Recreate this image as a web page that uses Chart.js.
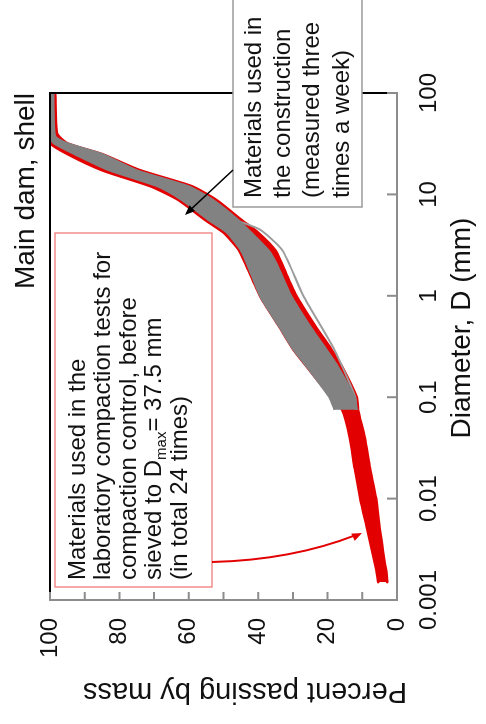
<!DOCTYPE html>
<html>
<head>
<meta charset="utf-8">
<script src="https://cdn.jsdelivr.net/npm/chart.js@4.4.1/dist/chart.umd.min.js"></script>
<style>
  html, body { margin: 0; padding: 0; background: #fff; overflow: hidden; }
  /* the figure is laid out landscape and turned a quarter to the left */
  #wrap {
    position: absolute; left: 0; top: 0;
    width: 724px; height: 486px;
    transform-origin: 0 0;
    transform: translateY(724px) rotate(-90deg);
  }
</style>
</head>
<body>
<div id="wrap"><canvas id="grading" width="724" height="486"></canvas></div>
<script>
// axis ticks
const diameterTicks = [0.001, 0.01, 0.1, 1, 10, 100]
const percentTicks = [0, 10, 20, 30, 40, 50, 60, 70, 80, 90, 100]
const percentLabels = [0, 20, 40, 60, 80, 100]

// laboratory compaction samples (24 curves) - envelope
const labSizes = [0.0015, 0.002, 0.005, 0.01, 0.02, 0.04, 0.075, 0.1, 0.2, 0.3, 0.5, 1, 2, 2.8, 4.2, 5.5, 8.8, 12, 17.3, 25, 32, 40, 100]
const labLower = [2.8, 3.2, 5, 6, 7.8, 9.3, 11.2, 11.6, 15.8, 19, 23.5, 29, 33, 35, 40, 44.5, 52, 59, 74, 85, 95, 98, 98.5]
const labUpper = [5.4, 6, 8.6, 10.6, 12.2, 13.6, 15.8, 19, 26, 30, 34, 39.5, 43.5, 45.5, 50, 55, 63, 71, 85, 95, 100, 100, 100]

// construction materials (three times a week) - envelope
const siteSizes = [0.075, 0.1, 0.2, 0.3, 0.5, 1, 2, 2.8, 4.2, 5.5, 8.8, 12, 17.3, 25, 32, 37.5, 100]
const siteLower = [11.5, 12.2, 17, 20.5, 25, 30.5, 34.5, 37, 42, 45.5, 53, 60, 75, 85, 95, 98.5, 99]
const siteUpper = [18, 19.5, 26, 30, 34, 39.5, 43, 45, 49, 54, 62, 69, 83, 93, 99, 100, 100]

// one coarser construction curve running outside the band
const outlierSizes = [0.075, 0.1, 0.3, 1, 2.8, 4.5, 5.5]
const outlierPassing = [11.8, 12, 18.2, 27, 33, 39.5, 46]

const RED = '#e30000'
const GREY = '#828282'
const FONT = "'Liberation Sans', Arial, Helvetica, sans-serif"

const toPoints = (xs, ys) => xs.map((d, i) => ({ x: d, y: ys[i] }))

function arrowHead (ctx, fromX, fromY, toX, toY, len, half) {
  const ang = Math.atan2(toY - fromY, toX - fromX)
  ctx.beginPath()
  ctx.moveTo(toX, toY)
  ctx.lineTo(toX - len * Math.cos(ang) + half * Math.sin(ang), toY - len * Math.sin(ang) - half * Math.cos(ang))
  ctx.lineTo(toX - len * Math.cos(ang) - half * Math.sin(ang), toY - len * Math.sin(ang) + half * Math.cos(ang))
  ctx.closePath()
  ctx.fill()
}

// frame, inward ticks, titles and the two callouts
const decorations = {
  id: 'decorations',
  afterDatasetsDraw (chart) {
    const { ctx, chartArea: a, scales: { x, y } } = chart
    ctx.save()

    // black frame on the 100 % and 100 mm sides
    ctx.strokeStyle = '#000'
    ctx.lineWidth = 2
    ctx.beginPath()
    ctx.moveTo(a.left, a.top)
    ctx.lineTo(a.right, a.top)
    ctx.lineTo(a.right, a.bottom)
    ctx.stroke()

    // ticks pointing into the plot
    ctx.strokeStyle = '#8c8c8c'
    ctx.lineWidth = 2
    ctx.beginPath()
    diameterTicks.forEach(d => {
      const px = x.getPixelForValue(d)
      ctx.moveTo(px, a.bottom)
      ctx.lineTo(px, a.bottom - 10)
    })
    percentTicks.forEach(p => {
      const py = y.getPixelForValue(p)
      ctx.moveTo(a.left, py)
      ctx.lineTo(a.left + 8, py)
    })
    ctx.stroke()

    // axis titles
    ctx.fillStyle = '#111'
    ctx.font = '28px ' + FONT
    ctx.textAlign = 'center'
    ctx.textBaseline = 'middle'
    ctx.fillText('Diameter, D (mm)', 396, 462)
    ctx.save()
    ctx.translate(33, 245)
    ctx.rotate(-Math.PI / 2)
    ctx.font = '29px ' + FONT
    ctx.fillText('Percent passing by mass', 0, 0)
    ctx.restore()

    // panel title
    ctx.font = '28px ' + FONT
    ctx.textAlign = 'right'
    ctx.fillText('Main dam, shell', a.right, 26)

    // callout: construction materials
    ctx.fillStyle = '#fff'
    ctx.fillRect(517, 233, 220, 129)
    ctx.strokeStyle = '#9a9a9a'
    ctx.lineWidth = 1.5
    ctx.strokeRect(517, 233, 220, 129)
    ctx.fillStyle = '#111'
    ctx.font = '24px ' + FONT
    ctx.textAlign = 'left'
    ;['Materials used in', 'the construction', '(measured three', 'times a week)']
      .forEach((t, i) => ctx.fillText(t, 526, 254 + i * 29.3))

    ctx.strokeStyle = '#000'
    ctx.fillStyle = '#000'
    ctx.lineWidth = 1.5
    ctx.beginPath()
    ctx.moveTo(554, 233)
    ctx.lineTo(511, 187)
    ctx.stroke()
    arrowHead(ctx, 554, 233, 509, 185, 10, 4)

    // callout: laboratory compaction materials
    ctx.fillStyle = '#fff'
    ctx.fillRect(137, 55, 354, 157)
    ctx.strokeStyle = '#f07070'
    ctx.lineWidth = 1.2
    ctx.strokeRect(137, 55, 354, 157)
    ctx.fillStyle = '#111'
    ctx.font = '24px ' + FONT
    const lines = ['Materials used in the', 'laboratory compaction tests for', 'compaction control, before']
    lines.forEach((t, i) => ctx.fillText(t, 144, 78 + i * 25.6))
    let cx = 144
    const ly = 78 + 3 * 25.6
    ctx.fillText('sieved to D', cx, ly)
    cx += ctx.measureText('sieved to D').width
    ctx.font = '15px ' + FONT
    ctx.fillText('max', cx, ly + 7)
    cx += ctx.measureText('max').width
    ctx.font = '24px ' + FONT
    ctx.fillText('= 37.5 mm', cx, ly)
    ctx.fillText('(in total 24 times)', 144, 78 + 4 * 25.6)

    ctx.strokeStyle = RED
    ctx.fillStyle = RED
    ctx.lineWidth = 2
    ctx.beginPath()
    ctx.moveTo(162, 212)
    ctx.quadraticCurveTo(164, 292, 189, 356)
    ctx.stroke()
    arrowHead(ctx, 176, 330, 191, 362, 10, 4)

    ctx.restore()
  }
}

new Chart(document.getElementById('grading'), {
  type: 'line',
  data: {
    datasets: [
      {
        data: toPoints(siteSizes, siteLower),
        borderColor: GREY,
        borderWidth: 2,
        pointRadius: 0,
        fill: false,
        order: 1
      },
      {
        data: toPoints(siteSizes, siteUpper),
        borderColor: GREY,
        borderWidth: 2,
        pointRadius: 0,
        backgroundColor: GREY,
        fill: '-1',
        order: 1
      },
      {
        data: toPoints(outlierSizes, outlierPassing),
        borderColor: '#9c9c9c',
        borderWidth: 2,
        pointRadius: 0,
        fill: false,
        order: 2
      },
      {
        data: toPoints(labSizes, labLower),
        borderColor: RED,
        borderWidth: 2.5,
        borderCapStyle: 'round',
        pointRadius: 0,
        fill: false,
        order: 3
      },
      {
        data: toPoints(labSizes, labUpper),
        borderColor: RED,
        borderWidth: 2.5,
        borderCapStyle: 'round',
        pointRadius: 0,
        backgroundColor: RED,
        fill: '-1',
        order: 3
      }
    ]
  },
  options: {
    responsive: false,
    animation: false,
    events: [],
    layout: { padding: { left: 0, right: 93, top: 50, bottom: 0 } },
    plugins: { legend: { display: false }, tooltip: { enabled: false } },
    elements: { line: { tension: 0.2 } },
    scales: {
      x: {
        type: 'logarithmic',
        position: 'bottom',
        min: 0.001,
        max: 100,
        afterBuildTicks: scale => { scale.ticks = diameterTicks.map(v => ({ value: v })) },
        afterFit: scale => { scale.height = 89 },
        grid: { display: false, drawTicks: false },
        border: { display: true, color: '#8c8c8c', width: 2 },
        ticks: {
          autoSkip: false,
          maxRotation: 0,
          padding: 18,
          color: '#111',
          font: { family: FONT, size: 24 },
          callback: v => String(v)
        }
      },
      y: {
        min: 0,
        max: 100,
        afterBuildTicks: scale => { scale.ticks = percentTicks.map(v => ({ value: v })) },
        afterFit: scale => { scale.width = 124 },
        grid: { display: false, drawTicks: false },
        border: { display: true, color: '#8c8c8c', width: 2 },
        ticks: {
          autoSkip: false,
          padding: 18,
          color: '#111',
          font: { family: FONT, size: 24 },
          callback: v => (percentLabels.includes(v) ? String(v) : '')
        }
      }
    }
  },
  plugins: [decorations]
})
</script>
</body>
</html>
